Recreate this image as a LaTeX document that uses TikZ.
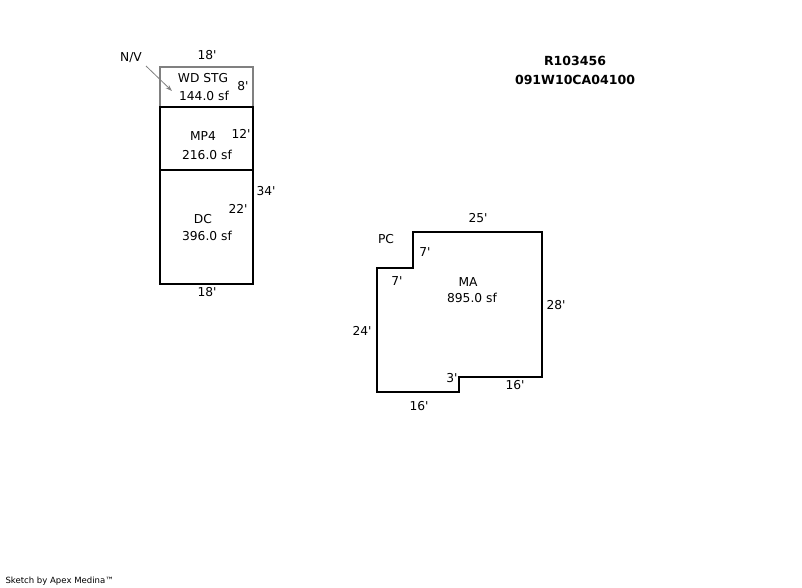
\documentclass[tikz,border=0pt]{standalone}
\usepackage{fontspec}
\setmainfont{DejaVu Sans}[Ligatures=TeXOff]
\usetikzlibrary{arrows.meta}
\definecolor{wallgray}{RGB}{128,128,128}
\tikzset{every picture/.style={line width=0.75pt},
  wall/.style={line width=1.6pt,line join=miter},
  thinwall/.style={draw=wallgray,line width=1.6pt},
  lbl/.style={inner sep=0pt,font=\fontsize{9.2}{11}\selectfont},
  idlbl/.style={inner sep=0pt,font=\fontsize{9.4}{11}\selectfont\bfseries},
  smalllbl/.style={inner sep=0pt,font=\fontsize{6.4}{8}\selectfont}}

\begin{document}
\begin{tikzpicture}[x=0.75pt,y=0.75pt,yscale=-1,xscale=1]
\useasboundingbox (0,0) rectangle (802,588);

% Storage room
\draw [thinwall] (160,107) -- (160,67) -- (253,67) -- (253,107);
% Rooms
\draw [wall] (160,107) rectangle (253,170);
\draw [wall] (160,170) rectangle (253,284);
% Main area
\draw [wall] (413,232) -- (542,232) -- (542,377) -- (459,377) -- (459,392) -- (377,392) -- (377,268) -- (413,268) -- cycle;

% Text Node
\node [lbl] (nv) at (131,58) {N/V};
\node [lbl] (wdtop) at (207,55) {18'};
\node [lbl] (wd) at (203,78) {WD STG};
\node [lbl] (wdarea) at (204,96) {144.0 sf};
\node [lbl] (wdside) at (243,86) {8'};
% Text Node
\node [lbl] (mp) at (203,136) {MP4};
\node [lbl] (mparea) at (207,155) {216.0 sf};
\node [lbl] (mpside) at (241,134) {12'};
% Text Node
\node [lbl] (dc) at (203,219) {DC};
\node [lbl] (dcarea) at (207,236) {396.0 sf};
\node [lbl] (dcside) at (238,209) {22'};
\node [lbl] (dcright) at (266,191) {34'};
\node [lbl] (dcbot) at (207,292) {18'};
% Text Node
\node [lbl] (pc) at (386,239) {PC};
\node [lbl] (matop) at (478,218) {25'};
\node [lbl] (mastep) at (425,252) {7'};
\node [lbl] (mastepb) at (397,281) {7'};
\node [lbl] (ma) at (468,282) {MA};
\node [lbl] (maarea) at (472,298) {895.0 sf};
\node [lbl] (maright) at (556,305) {28'};
\node [lbl] (maleft) at (362,331) {24'};
\node [lbl] (manotch) at (452,378) {3'};
\node [lbl] (manotchb) at (515,385) {16'};
\node [lbl] (mabot) at (419,406) {16'};
% Text Node
\node [idlbl] (rid) at (575,61) {R103456};
\node [idlbl] (pid) at (575,80) {091W10CA04100};
\node [smalllbl,anchor=west] (credit) at (5,581) {Sketch by Apex Medina™};

% Connection
\coordinate (nvend) at (172,91);
\draw [draw=wallgray,-{Stealth[length=5pt,width=3.5pt]},line width=0.6pt] (146,66) -- (nvend);
\end{tikzpicture}
\end{document}
